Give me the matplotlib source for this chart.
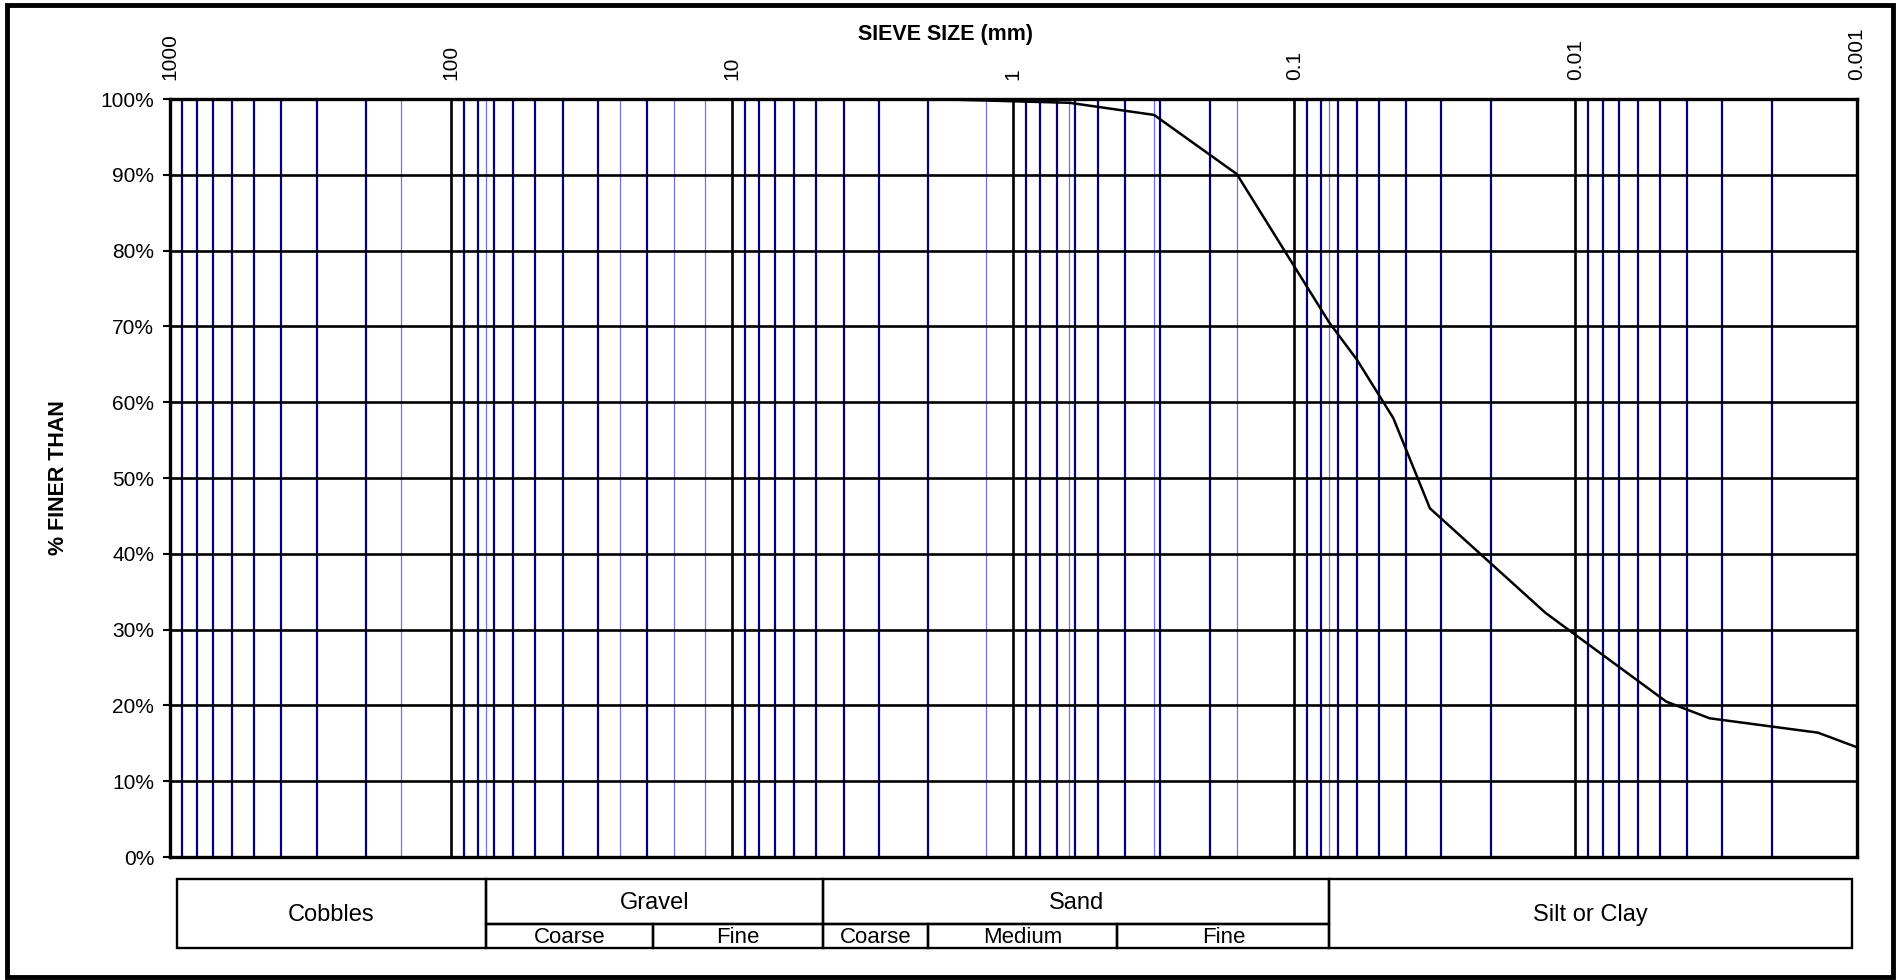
import matplotlib.pyplot as plt
from matplotlib.patches import Rectangle
from matplotlib.ticker import FixedLocator, LogLocator, NullFormatter, PercentFormatter

plt.rcParams['font.family'] = ['Liberation Sans', 'DejaVu Sans']

# grain size curve: particle size (mm) and % finer
size_mm = [2.0, 1.25, 0.63, 0.315, 0.16, 0.075, 0.0598, 0.0444, 0.0329,
           0.01276, 0.00475, 0.00333, 0.00137, 0.001]
finer_pct = [100, 99.8, 99.5, 97.9, 90.1, 70.5, 65.6, 57.9, 46.0,
             32.2, 20.5, 18.3, 16.4, 14.5]

decades = [1000, 100, 10, 1, 0.1, 0.01, 0.001]
decade_labels = ["1000", "100", "10", "1", "0.1", "0.01", "0.001"]
sieve_lines = [150, 75, 25, 16, 12.5, 1.25, 0.63, 0.315, 0.16, 0.075]
pct_ticks = [0, 10, 20, 30, 40, 50, 60, 70, 80, 90, 100]

# soil classification band below the chart
main_names = ["Cobbles", "Gravel", "Sand", "Silt or Clay"]
main_edges = [940, 75, 4.75, 0.075, 0.00104]
main_split = [False, True, True, False]
sub_names = ["Coarse", "Fine", "Coarse", "Medium", "Fine"]
sub_edges = [(75, 19), (19, 4.75), (4.75, 2.0), (2.0, 0.425), (0.425, 0.075)]

W, H = 1898, 980
fig = plt.figure(figsize=(W / 100, H / 100), dpi=100)
ax = fig.add_axes([169.5 / W, 1 - 857 / H, 1687 / W, 758 / H])

ax.set_xscale('log')
ax.set_xlim(1000, 0.001)
ax.set_ylim(0, 100)

# grid
for s in sieve_lines:
    ax.axvline(s, color='#7070ff', lw=0.9, zorder=1)
ax.xaxis.set_minor_locator(LogLocator(base=10, subs=[2, 3, 4, 5, 6, 7, 8, 9], numticks=20))
ax.xaxis.set_minor_formatter(NullFormatter())
ax.grid(True, which='minor', axis='x', color='#000080', lw=1.6, zorder=1.5)
ax.grid(True, which='major', axis='x', color='black', lw=1.9, zorder=1.6)
ax.grid(True, which='major', axis='y', color='black', lw=1.9, zorder=1.7)

ax.plot(size_mm, finer_pct, color='black', lw=1.8, zorder=3)

ax.xaxis.set_major_locator(FixedLocator(decades))
ax.set_xticklabels(decade_labels, rotation=90, fontsize=15)
ax.xaxis.tick_top()
ax.tick_params(axis='x', which='both', length=0, pad=14)
ax.set_xlabel("SIEVE SIZE (mm)", fontsize=15.5, fontweight='bold')
ax.xaxis.set_label_position('top')
ax.xaxis.set_label_coords(0.46, 1 + (99 - 34) / 758)
ax.xaxis.label.set_va('center')

ax.yaxis.set_major_locator(FixedLocator(pct_ticks))
ax.yaxis.set_major_formatter(PercentFormatter(decimals=0))
ax.tick_params(axis='y', length=5, width=1.5, labelsize=15, pad=6)
ax.set_ylabel("% FINER THAN", fontsize=15.5, fontweight='bold')
ax.yaxis.set_label_coords(-(169.5 - 69) / 1687, 0.5)

for sp in ax.spines.values():
    sp.set_linewidth(2.4)
    sp.set_zorder(4)

# classification table
tr = ax.get_xaxis_transform()
y_top, y_mid, y_bot = -22 / 758, -67 / 758, -91 / 758
for i, name in enumerate(main_names):
    a, b = main_edges[i + 1], main_edges[i]
    y0 = y_mid if main_split[i] else y_bot
    ax.add_patch(Rectangle((a, y0), b - a, y_top - y0, transform=tr, fill=False,
                           ec='black', lw=1.7, clip_on=False))
    xc = (a * b) ** 0.5
    ax.text(xc, (y0 + y_top) / 2 - 1 / 758, name, transform=tr, ha='center',
            va='center', fontsize=17, clip_on=False)
for name, (b, a) in zip(sub_names, sub_edges):
    ax.add_patch(Rectangle((a, y_bot), b - a, y_mid - y_bot, transform=tr, fill=False,
                           ec='black', lw=1.7, clip_on=False))
    ax.text((a * b) ** 0.5, (y_bot + y_mid) / 2 - 1 / 758, name, transform=tr,
            ha='center', va='center', fontsize=16, clip_on=False)

# outer frame of the chart area
fig.patches.append(Rectangle((7 / W, 3 / H), 1886 / W, 972 / H, transform=fig.transFigure,
                             fill=False, ec='black', lw=3.5))

fig.savefig("out.png", dpi=100)
